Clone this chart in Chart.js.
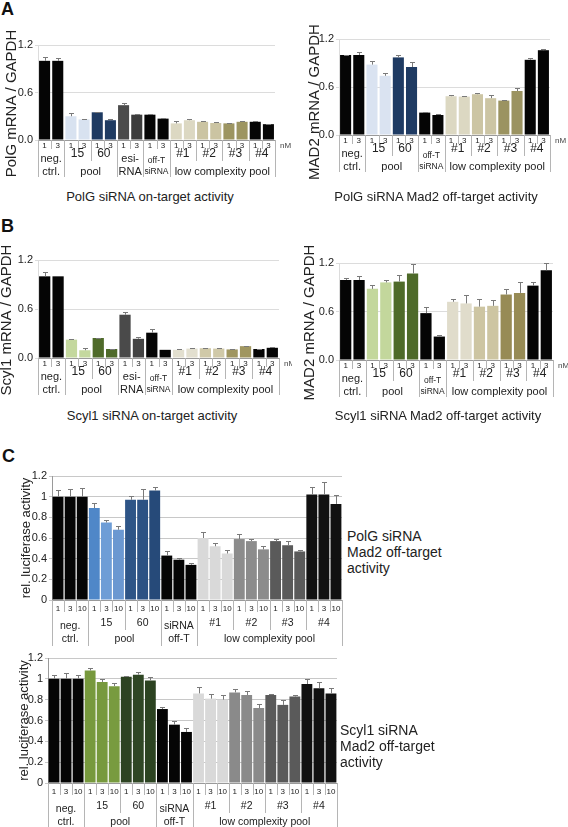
<!DOCTYPE html>
<html>
<head>
<meta charset="utf-8">
<script src="https://cdn.jsdelivr.net/npm/chart.js@4.4.0/dist/chart.umd.min.js"></script>
<style>
  body { margin: 0; background: #fff; font-family: "Liberation Sans", Arial, sans-serif; color: #222; }
  #fig { position: relative; width: 568px; height: 827px; overflow: hidden; background: #fff; }
  canvas { position: absolute; }
  .lbl { position: absolute; white-space: nowrap; line-height: 1; }
  .letter { font-weight: bold; font-size: 18px; color: #111; }
  .sub { font-size: 13px; transform: translate(-50%, -50%); }
  .side { font-size: 14px; line-height: 16px; }
</style>
</head>
<body>
<div id="fig">
  <div class="lbl letter" style="left:1px;top:0px">A</div>
  <div class="lbl letter" style="left:1px;top:217px">B</div>
  <div class="lbl letter" style="left:2px;top:447px">C</div>

  <canvas id="polgOn" width="292" height="160" style="left:0;top:25px"></canvas>
  <canvas id="polgMad2" width="278" height="160" style="left:290px;top:25px"></canvas>
  <canvas id="scylOn" width="292" height="160" style="left:0;top:240px"></canvas>
  <canvas id="scylMad2" width="278" height="160" style="left:290px;top:240px"></canvas>
  <canvas id="polgLuc" width="345" height="185" style="left:0;top:465px"></canvas>
  <canvas id="scylLuc" width="345" height="182" style="left:0;top:645px"></canvas>

  <div class="lbl sub" style="left:150px;top:196px">PolG siRNA on-target activity</div>
  <div class="lbl sub" style="left:436px;top:196px">PolG siRNA Mad2 off-target activity</div>
  <div class="lbl sub" style="left:152px;top:415px">Scyl1 siRNA on-target activity</div>
  <div class="lbl sub" style="left:438px;top:415px">Scyl1 siRNA Mad2 off-target activity</div>

  <div class="lbl side" style="left:347px;top:528px">PolG siRNA<br>Mad2 off-target<br>activity</div>
  <div class="lbl side" style="left:340px;top:722px">Scyl1 siRNA<br>Mad2 off-target<br>activity</div>
</div>
<script>
// ---- data ----
const doseTicks18 = ['1','3','1','3','1','3','1','3','1','3','1','3','1','3','1','3','1','3'];
const doseTicks16 = ['1','3','1','3','1','3','1','3','1','3','1','3','1','3','1','3'];
const doseTicks24 = ['1','3','10','1','3','10','1','3','10','1','3','10','1','3','10','1','3','10','1','3','10','1','3','10'];

const polgOnValues = [1.00, 1.00, 0.30, 0.26, 0.35, 0.25, 0.44, 0.32, 0.32, 0.27, 0.21, 0.25, 0.23, 0.215, 0.21, 0.23, 0.23, 0.20];
const polgOnErrors = [0.05, 0.04, 0.045, 0.01, 0.01, 0.02, 0.025, 0.005, 0.01, 0.005, 0.03, 0.02, 0.015, 0.01, 0.005, 0.005, 0.01, 0.005];

const polgMad2Values = [1.00, 1.00, 0.88, 0.74, 0.97, 0.85, 0.28, 0.25, 0.485, 0.48, 0.51, 0.46, 0.43, 0.55, 0.94, 1.06];
const polgMad2Errors = [0.005, 0.04, 0.04, 0.04, 0.035, 0.06, 0.01, 0.01, 0.01, 0.01, 0.02, 0.035, 0.01, 0.04, 0.025, 0.02];

const scylOnValues = [1.00, 1.00, 0.225, 0.095, 0.245, 0.11, 0.53, 0.235, 0.31, 0.10, 0.10, 0.115, 0.12, 0.115, 0.105, 0.145, 0.11, 0.125];
const scylOnErrors = [0.05, 0.0, 0.01, 0.03, 0.005, 0.005, 0.035, 0.02, 0.05, 0.0, 0.005, 0.005, 0.005, 0.005, 0.005, 0.005, 0.005, 0.005];

const scylMad2Values = [0.99, 0.99, 0.88, 0.96, 0.97, 1.07, 0.58, 0.29, 0.72, 0.70, 0.66, 0.67, 0.81, 0.83, 0.92, 1.11];
const scylMad2Errors = [0.02, 0.05, 0.05, 0.03, 0.08, 0.12, 0.07, 0.02, 0.03, 0.10, 0.10, 0.07, 0.07, 0.13, 0.04, 0.09];

const polgLucValues = [1.00, 1.00, 1.00, 0.89, 0.75, 0.68, 0.97, 0.97, 1.06, 0.43, 0.39, 0.34, 0.60, 0.52, 0.45, 0.59, 0.57, 0.49, 0.57, 0.53, 0.47, 1.02, 1.02, 0.93];
const polgLucErrors = [0.06, 0.07, 0.08, 0.05, 0.025, 0.04, 0.04, 0.10, 0.03, 0.04, 0.02, 0.015, 0.06, 0.035, 0.03, 0.05, 0.02, 0.03, 0.02, 0.04, 0.015, 0.07, 0.12, 0.09];

const scylLucValues = [1.00, 1.00, 1.00, 1.08, 0.97, 0.93, 1.02, 1.04, 0.985, 0.71, 0.56, 0.49, 0.86, 0.81, 0.80, 0.87, 0.845, 0.72, 0.845, 0.75, 0.83, 0.95, 0.91, 0.86];
const scylLucErrors = [0.04, 0.06, 0.04, 0.025, 0.03, 0.03, 0.01, 0.03, 0.035, 0.02, 0.035, 0.04, 0.06, 0.04, 0.045, 0.03, 0.04, 0.04, 0.005, 0.045, 0.015, 0.045, 0.06, 0.05];

// group labels under the dose row: [text, first bar, last bar, row]
const groupsOn = [
  ['neg.', 0, 1, 'r1b'], ['ctrl.', 0, 1, 'r2'],
  ['15', 2, 3, 'r1'], ['60', 4, 5, 'r1'], ['pool', 2, 5, 'r2'],
  ['esi-', 6, 7, 'r1b'], ['RNA', 6, 7, 'r2'],
  ['off-T', 8, 9, 's1'], ['siRNA', 8, 9, 's2'],
  ['#1', 10, 11, 'r1'], ['#2', 12, 13, 'r1'], ['#3', 14, 15, 'r1'], ['#4', 16, 17, 'r1'],
  ['low complexity pool', 10, 17, 'r2']
];
const groupsOff = [
  ['neg.', 0, 1, 'r1b'], ['ctrl.', 0, 1, 'r2'],
  ['15', 2, 3, 'r1'], ['60', 4, 5, 'r1'], ['pool', 2, 5, 'r2'],
  ['off-T', 6, 7, 's1'], ['siRNA', 6, 7, 's2'],
  ['#1', 8, 9, 'r1'], ['#2', 10, 11, 'r1'], ['#3', 12, 13, 'r1'], ['#4', 14, 15, 'r1'],
  ['low complexity pool', 8, 15, 'r2']
];
const groupsLuc = [
  ['neg.', 0, 2, 'r1b'], ['ctrl.', 0, 2, 'r2'],
  ['15', 3, 5, 'r1'], ['60', 6, 8, 'r1'], ['pool', 3, 8, 'r2'],
  ['siRNA', 9, 11, 'r1b'], ['off-T', 9, 11, 'r2'],
  ['#1', 12, 14, 'r1'], ['#2', 15, 17, 'r1'], ['#3', 18, 20, 'r1'], ['#4', 21, 23, 'r1'],
  ['low complexity pool', 12, 23, 'r2']
];
const edgesOn = [0, 2, 6, 8, 10, 18], subEdgesOn = [4, 12, 14, 16];
const edgesOff = [0, 2, 6, 8, 16], subEdgesOff = [4, 10, 12, 14];
const edgesLuc = [0, 3, 9, 12, 24], subEdgesLuc = [6, 15, 18, 21];

// ---- colours ----
const K = '#050505';
const polgOnColors = [K, K, '#d8e2f0', '#d8e2f0', '#1f3b62', '#1f3b62', '#4b4b4b', '#3c3c3c', K, K,
  '#dcd8c2', '#dcd8c2', '#cbc4a2', '#cbc4a2', '#9d9561', '#9d9561', K, K];
const polgMad2Colors = [K, K, '#dae3f1', '#dae3f1', '#1f3b63', '#1f3b63', K, K,
  '#dcd8c2', '#dcd8c2', '#ccc5a4', '#ccc5a4', '#9b9361', '#9b9361', K, K];
const scylOnColors = [K, K, '#c4d89e', '#c4d89e', '#4f6b2a', '#4f6b2a', '#4a4a4a', '#444444', K, K,
  '#e2dfcf', '#e2dfcf', '#d0c9a8', '#d0c9a8', '#a09660', '#a09660', K, K];
const scylMad2Colors = [K, K, '#c3d79c', '#c3d79c', '#4e6a29', '#4e6a29', K, K,
  '#e0dccb', '#e0dccb', '#cdc5a2', '#cdc5a2', '#978b55', '#978b55', K, K];
const polgLucColors = [K, K, K, '#4f87c8', '#6e9dd6', '#6b98d1', '#2e5587', '#2c5284', '#264a79', K, K, K,
  '#d9d9d9', '#d9d9d9', '#d9d9d9', '#8c8c8c', '#8c8c8c', '#8c8c8c', '#5a5a5a', '#5a5a5a', '#5a5a5a', '#111', '#111', '#111'];
const scylLucColors = [K, K, K, '#77993d', '#77993d', '#789b3f', '#2d4322', '#2f4624', '#2c4321', K, K, K,
  '#d9d9d9', '#d9d9d9', '#d9d9d9', '#8a8a8a', '#8a8a8a', '#8a8a8a', '#5a5a5a', '#5a5a5a', '#5a5a5a', '#111', '#111', '#111'];

const FONT = '"Liberation Sans", Arial, sans-serif';

const rowsAB = {
  r1: { dy: 14, size: 12 }, r1b: { dy: 19, size: 11 }, r2: { dy: 32, size: 11 },
  s1: { dy: 21, size: 8.5 }, s2: { dy: 32, size: 8.5 }
};
const rowsC = {
  r1: { dy: 23, size: 10.5 }, r1b: { dy: 26, size: 10.5 }, r2: { dy: 39, size: 10.5 }
};

// error bars, group labels, separators, y title, nM
const figPlugin = {
  id: 'fig',
  afterDatasetsDraw(chart, args, opts) {
    const ctx = chart.ctx, y = chart.scales.y;
    const meta = chart.getDatasetMeta(0);
    const vals = chart.data.datasets[0].data;
    ctx.save();
    ctx.strokeStyle = '#7a7a7a';
    ctx.lineWidth = 1;
    meta.data.forEach((bar, i) => {
      if (!opts.errors[i]) return;
      const top = Math.round(y.getPixelForValue(vals[i] + opts.errors[i])) + 0.5;
      const bx = Math.round(bar.x) + 0.5;
      ctx.beginPath();
      ctx.moveTo(bx, bar.y);
      ctx.lineTo(bx, top);
      ctx.moveTo(bx - 2.5, top);
      ctx.lineTo(bx + 2.5, top);
      ctx.stroke();
    });
    ctx.restore();
  },
  afterDraw(chart, args, opts) {
    const ctx = chart.ctx, x = chart.scales.x, area = chart.chartArea;
    const n = chart.data.labels.length;
    const edge = i => {
      if (i <= 0) return x.getPixelForValue(0) - (x.getPixelForValue(1) - x.getPixelForValue(0)) / 2;
      if (i >= n) return x.getPixelForValue(n - 1) + (x.getPixelForValue(1) - x.getPixelForValue(0)) / 2;
      return (x.getPixelForValue(i - 1) + x.getPixelForValue(i)) / 2;
    };
    ctx.save();
    ctx.strokeStyle = '#b5b5b5';
    ctx.lineWidth = 1;
    ctx.beginPath();
    for (let i = 0; i <= n; i++) {
      const ex = Math.round(edge(i)) + 0.5;
      ctx.moveTo(ex, area.bottom);
      ctx.lineTo(ex, area.bottom + opts.tickRow);
    }
    opts.subEdges.forEach(i => {
      const ex = Math.round(edge(i)) + 0.5;
      ctx.moveTo(ex, area.bottom);
      ctx.lineTo(ex, area.bottom + opts.subDepth);
    });
    opts.edges.forEach(i => {
      const ex = Math.round(edge(i)) + 0.5;
      ctx.moveTo(ex, area.bottom);
      ctx.lineTo(ex, area.bottom + opts.depth);
    });
    ctx.stroke();

    ctx.fillStyle = '#222';
    ctx.textAlign = 'center';
    ctx.textBaseline = 'middle';
    opts.groups.forEach(([text, a, b, row]) => {
      const r = opts.rows[row];
      ctx.font = r.size + 'px ' + FONT;
      const cx = (x.getPixelForValue(a) + x.getPixelForValue(b)) / 2;
      ctx.fillText(text, cx, area.bottom + r.dy);
    });

    if (opts.nM) {
      ctx.font = '8px ' + FONT;
      ctx.textAlign = 'left';
      ctx.fillStyle = '#444';
      ctx.fillText('nM', area.right + 5, area.bottom + 6);
    }

    // y axis title
    ctx.font = opts.yTitleSize + 'px ' + FONT;
    ctx.fillStyle = '#222';
    ctx.textAlign = 'center';
    ctx.textBaseline = 'middle';
    ctx.translate(opts.yTitleX, (area.top + area.bottom) / 2 + opts.yTitleShift);
    ctx.rotate(-Math.PI / 2);
    ctx.fillText(opts.yTitle, 0, 0);
    ctx.restore();
  }
};

function makeChart(id, cfg) {
  const canvas = document.getElementById(id);
  const big = cfg.kind === 'luc';
  return new Chart(canvas, {
    type: 'bar',
    data: {
      labels: cfg.labels,
      datasets: [{
        data: cfg.values,
        backgroundColor: cfg.colors,
        borderWidth: 0,
        barPercentage: big ? 0.9 : 0.84,
        categoryPercentage: 1.0
      }]
    },
    options: {
      responsive: false,
      animation: false,
      events: [],
      layout: { padding: { top: cfg.padTop, right: cfg.padRight, left: 0, bottom: 0 } },
      plugins: {
        legend: { display: false },
        tooltip: { enabled: false },
        fig: {
          errors: cfg.errors,
          groups: cfg.groups,
          rows: big ? rowsC : rowsAB,
          edges: cfg.edges,
          subEdges: cfg.subEdges,
          tickRow: big ? 12 : 9,
          subDepth: big ? 30 : 21,
          depth: big ? 46 : 37,
          nM: !big,
          yTitle: cfg.yTitle,
          yTitleX: cfg.yTitleX,
          yTitleShift: cfg.yTitleShift,
          yTitleSize: big ? 13 : 15
        }
      },
      scales: {
        x: {
          afterFit: s => { s.height = cfg.xHeight; },
          grid: { display: false, drawTicks: false },
          border: { display: true, color: '#9a9a9a' },
          ticks: {
            autoSkip: false, maxRotation: 0, padding: big ? 4 : 1,
            color: '#222', font: { family: FONT, size: 8 }
          }
        },
        y: {
          min: 0, max: 1.2,
          afterFit: s => { s.width = cfg.yWidth; },
          grid: { color: big ? '#c8c8c8' : '#dcdcdc', tickLength: 3 },
          border: { display: true, color: big ? '#9a9a9a' : '#dcdcdc' },
          ticks: {
            stepSize: big ? 0.2 : 0.6,
            padding: 2,
            color: '#222',
            font: { family: FONT, size: 11 },
            callback: v => big ? String(Math.round(v * 10) / 10) : v.toFixed(1)
          }
        }
      }
    },
    plugins: [figPlugin]
  });
}

makeChart('polgOn', {
  kind: 'mrna', labels: doseTicks18, values: polgOnValues, errors: polgOnErrors, colors: polgOnColors,
  groups: groupsOn, edges: edgesOn, subEdges: subEdgesOn,
  padTop: 20, padRight: 17, yWidth: 38, xHeight: 45,
  yTitle: 'PolG mRNA / GAPDH', yTitleX: 12, yTitleShift: 11
});
makeChart('polgMad2', {
  kind: 'mrna', labels: doseTicks16, values: polgMad2Values, errors: polgMad2Errors, colors: polgMad2Colors,
  groups: groupsOff, edges: edgesOff, subEdges: subEdgesOff,
  padTop: 14, padRight: 18, yWidth: 49, xHeight: 50,
  yTitle: 'MAD2 mRNA / GAPDH', yTitleX: 25, yTitleShift: 15
});
makeChart('scylOn', {
  kind: 'mrna', labels: doseTicks18, values: scylOnValues, errors: scylOnErrors, colors: scylOnColors,
  groups: groupsOn, edges: edgesOn, subEdges: subEdgesOn,
  padTop: 20, padRight: 13, yWidth: 38, xHeight: 42,
  yTitle: 'Scyl1 mRNA / GAPDH', yTitleX: 7, yTitleShift: 11
});
makeChart('scylMad2', {
  kind: 'mrna', labels: doseTicks16, values: scylMad2Values, errors: scylMad2Errors, colors: scylMad2Colors,
  groups: groupsOff, edges: edgesOff, subEdges: subEdgesOff,
  padTop: 23, padRight: 15, yWidth: 49, xHeight: 40,
  yTitle: 'MAD2 mRNA / GAPDH', yTitleX: 20, yTitleShift: 11
});
makeChart('polgLuc', {
  kind: 'luc', labels: doseTicks24, values: polgLucValues, errors: polgLucErrors, colors: polgLucColors,
  groups: groupsLuc, edges: edgesLuc, subEdges: subEdgesLuc,
  padTop: 11, padRight: 3, yWidth: 52, xHeight: 50,
  yTitle: 'rel. luciferase activity', yTitleX: 26, yTitleShift: 0
});
makeChart('scylLuc', {
  kind: 'luc', labels: doseTicks24, values: scylLucValues, errors: scylLucErrors, colors: scylLucColors,
  groups: groupsLuc, edges: edgesLuc, subEdges: subEdgesLuc,
  padTop: 13, padRight: 8, yWidth: 48, xHeight: 44,
  yTitle: 'rel. luciferase activity', yTitleX: 24, yTitleShift: 0
});
</script>
</body>
</html>
